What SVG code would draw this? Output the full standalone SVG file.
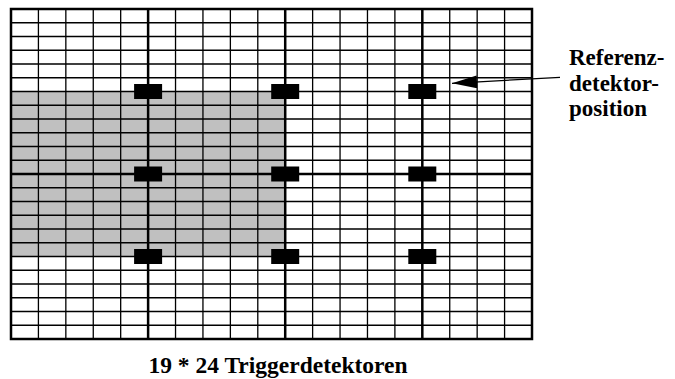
<svg xmlns="http://www.w3.org/2000/svg" width="675" height="379" viewBox="0 0 675 379">
  <style>
    .thin { stroke: #000; stroke-width: 1.3; fill: none; }
    .thick { stroke: #000; stroke-width: 2.5; fill: none; }
    .det { fill: #000; }
    .lbl { font-family: "Liberation Serif", "Times New Roman", serif; font-weight: bold; font-size: 23px; fill: #000; }
  </style>
  <defs>
    <marker id="arrowhead" viewBox="0 0 25 13" refX="25" refY="6.5" markerWidth="25" markerHeight="13" markerUnits="userSpaceOnUse" orient="auto">
      <path d="M0,0 L25,6.5 L0,13 z" fill="#000"/>
    </marker>
  </defs>
  <rect width="675" height="379" fill="#fff"/>
  <g id="grid">
    <rect id="shaded-area" x="11" y="91.5" width="274.21" height="165" fill="#c0c0c0"/>
    <path class="thin" d="M38.42,9V339 M65.84,9V339 M93.26,9V339 M120.68,9V339 M175.53,9V339 M202.95,9V339 M230.37,9V339 M257.79,9V339 M312.63,9V339 M340.05,9V339 M367.47,9V339 M394.89,9V339 M449.74,9V339 M477.16,9V339 M504.58,9V339"/>
    <path class="thin" d="M11,22.75H532 M11,36.5H532 M11,50.25H532 M11,64H532 M11,77.75H532 M11,91.5H532 M11,105.25H532 M11,119H532 M11,132.75H532 M11,146.5H532 M11,160.25H532 M11,187.75H532 M11,201.5H532 M11,215.25H532 M11,229H532 M11,242.75H532 M11,256.5H532 M11,270.25H532 M11,284H532 M11,297.75H532 M11,311.5H532 M11,325.25H532"/>
    <path class="thick" d="M148.11,9V339 M285.21,9V339 M422.32,9V339 M11,174H532"/>
    <rect class="thick" x="11" y="9" width="521" height="330"/>
  </g>
  <g id="det-1-1"><rect class="det" x="134.1" y="84" width="28" height="15"/></g>
  <g id="det-1-2"><rect class="det" x="271.2" y="84" width="28" height="15"/></g>
  <g id="det-1-3"><rect class="det" x="408.3" y="84" width="28" height="15"/></g>
  <g id="det-2-1"><rect class="det" x="134.1" y="166.5" width="28" height="15"/></g>
  <g id="det-2-2"><rect class="det" x="271.2" y="166.5" width="28" height="15"/></g>
  <g id="det-2-3"><rect class="det" x="408.3" y="166.5" width="28" height="15"/></g>
  <g id="det-3-1"><rect class="det" x="134.1" y="249" width="28" height="15"/></g>
  <g id="det-3-2"><rect class="det" x="271.2" y="249" width="28" height="15"/></g>
  <g id="det-3-3"><rect class="det" x="408.3" y="249" width="28" height="15"/></g>
  <g id="label-referenz">
    <text class="lbl" x="569" y="65">Referenz-</text>
    <text class="lbl" x="569" y="90.5">detektor-</text>
    <text class="lbl" x="569" y="116">position</text>
  </g>
  <g id="label-caption">
    <text class="lbl" x="278" y="373" text-anchor="middle" style="font-size:23.5px">19 * 24 Triggerdetektoren</text>
  </g>
  <g id="connectors">
    <line x1="560" y1="77.3" x2="452" y2="83.3" stroke="#000" stroke-width="1.3" marker-end="url(#arrowhead)"/>
  </g>
</svg>
